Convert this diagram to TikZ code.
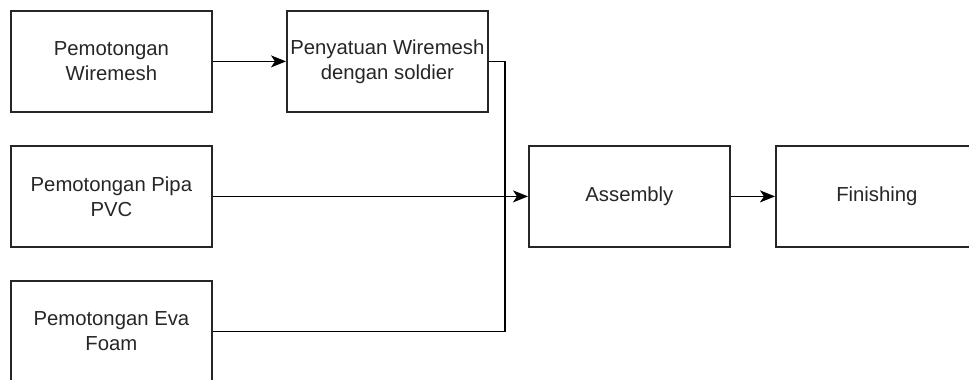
\documentclass[tikz,border=0pt]{standalone}
\usepackage{fontspec}
\setmainfont{Liberation Sans}
\usetikzlibrary{arrows.meta}
\begin{document}
\begin{tikzpicture}[x=1pt,y=-1pt,
  box/.style={draw=black!85,line width=1.8pt,minimum width=201pt,minimum height=101pt,inner sep=0pt,anchor=north west,align=center,font=\fontsize{20.3}{25}\selectfont,text=black!85},
  conn/.style={draw=black,line width=1.7pt,-{Stealth[length=15pt,width=12pt,inset=4pt]}},
  seg/.style={draw=black,line width=1.7pt}]
\useasboundingbox (0,0) rectangle (969,380);
\clip (0,0) rectangle (969,380);
\node[box] (b1) at (10,10) {Pemotongan\\Wiremesh};
\node[box] (b2) at (286,10) {Penyatuan Wiremesh\\dengan soldier};
\node[box] (b3) at (10,145) {Pemotongan Pipa\\PVC};
\node[box] (b4) at (10,280) {Pemotongan Eva\\Foam};
\node[box] (b5) at (528,145) {Assembly};
\node[box,minimum width=202pt] (b6) at (775,145) {Finishing};
\coordinate (j) at (505,0);
\draw[conn] (b1.east) -- (b2.west);
\draw[conn] (b3.east) -- (b5.west);
\draw[seg] (b2.east) -| (j |- b5.west);
\draw[seg] (b4.east) -| (j |- b5.west);
\draw[conn] (b5.east) -- (b6.west);
\end{tikzpicture}
\end{document}
